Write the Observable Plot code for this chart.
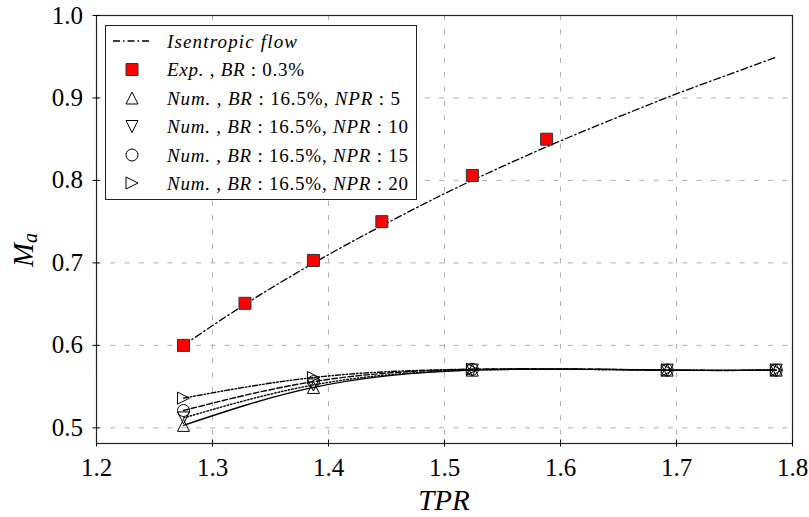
<!DOCTYPE html>
<html><head><meta charset="utf-8">
<script src="https://cdn.jsdelivr.net/npm/d3@7"></script>
<script src="https://cdn.jsdelivr.net/npm/@observablehq/plot@0.6"></script>
<style>body{margin:0;background:#fff}#figure{position:relative;width:809px;height:517px}
#figure svg text,#figure svg tspan{font-family:"Liberation Serif",serif !important}</style>
</head><body><div id="figure"></div>
<script>
// Numerical results, BR 16.5%
const tprNum = [1.275, 1.387, 1.524, 1.692, 1.786];
const maNPR5  = [0.503, 0.549, 0.570, 0.570, 0.570];
const maNPR10 = [0.512, 0.552, 0.570, 0.570, 0.570];
const maNPR15 = [0.521, 0.556, 0.571, 0.570, 0.570];
const maNPR20 = [0.536, 0.561, 0.571, 0.570, 0.570];
// Experiment, BR 0.3%
const tprExp = [1.275, 1.328, 1.387, 1.446, 1.524, 1.588];
const maExp  = [0.600, 0.651, 0.703, 0.750, 0.806, 0.850];
// Isentropic flow curve
const tprIsen = [1.275, 1.30, 1.35, 1.40, 1.45, 1.50, 1.55, 1.60, 1.65, 1.70, 1.75, 1.785];
const maIsen  = [0.600, 0.624, 0.669, 0.710, 0.748, 0.784, 0.817, 0.848, 0.877, 0.905, 0.931, 0.949];
// Ticks
const xTicks = [1.2, 1.3, 1.4, 1.5, 1.6, 1.7, 1.8];
const yTicks = [0.5, 0.6, 0.7, 0.8, 0.9, 1.0];
const nprLabels = ["5", "10", "15", "20"];

const FONT = "Liberation Serif";

// custom symbols (size = pi r^2 as passed by Plot)
const rad = s => Math.sqrt(s / Math.PI);
const triUp = {draw(c, s){const r = rad(s); c.moveTo(0,-r); c.lineTo(r,r); c.lineTo(-r,r); c.closePath();}};
const triDown = {draw(c, s){const r = rad(s); c.moveTo(0,r); c.lineTo(r,-r); c.lineTo(-r,-r); c.closePath();}};
const triRight = {draw(c, s){const r = rad(s); c.moveTo(r,0); c.lineTo(-r,r); c.lineTo(-r,-r); c.closePath();}};
const circ = {draw(c, s){const r = rad(s); c.moveTo(r,0); c.arc(0,0,r,0,2*Math.PI);}};
const sq = {draw(c, s){const r = rad(s); c.rect(-r,-r,2*r,2*r);}};

const numSeries = [
  {npr: nprLabels[0], ma: maNPR5,  symbol: triUp,    dash: null},
  {npr: nprLabels[1], ma: maNPR10, symbol: triDown,  dash: "1.5,2"},
  {npr: nprLabels[2], ma: maNPR15, symbol: circ,     dash: "5.5,2.5"},
  {npr: nprLabels[3], ma: maNPR20, symbol: triRight, dash: "5,2,1.5,2,1.5,2"}
];
const isen = tprIsen.map((x, i) => ({x, y: maIsen[i]}));
const expPts = tprExp.map((x, i) => ({x, y: maExp[i]}));

const marks = [
  Plot.gridX(xTicks, {stroke: "#b0b0b0", strokeOpacity: 1, strokeDasharray: "5,9.3"}),
  Plot.gridY(yTicks, {stroke: "#b0b0b0", strokeOpacity: 1, strokeDasharray: "5,9.3"}),
  Plot.line(isen, {x: "x", y: "y", stroke: "black", strokeWidth: 1.3, strokeDasharray: "7,3,1.5,3", curve: "monotone-x"})
];
for (const s of numSeries) {
  const d = tprNum.map((x, i) => ({x, y: s.ma[i]}));
  marks.push(Plot.line(d, {x: "x", y: "y", stroke: "black", strokeWidth: 1.4, strokeDasharray: s.dash, curve: "natural"}));
}
marks.push(Plot.dot(expPts, {x: "x", y: "y", symbol: sq, r: 6, fill: "#ff0000", stroke: "#333", strokeWidth: 1}));
for (const s of numSeries) {
  const d = tprNum.map((x, i) => ({x, y: s.ma[i]}));
  marks.push(Plot.dot(d, {x: "x", y: "y", symbol: s.symbol, r: 6, fill: "none", stroke: "black", strokeWidth: 1}));
}
marks.push(
  Plot.frame({stroke: "#222", strokeWidth: 1.2}),
  Plot.axisX(xTicks, {tickSize: 3.5, tickPadding: 11, tickFormat: d3.format(".1f"), fontSize: 25, fontFamily: FONT, label: null}),
  Plot.axisX(xTicks, {tickSize: -3.5, tickFormat: () => "", label: null}),
  Plot.axisY(yTicks, {tickSize: 3.5, tickPadding: 10, tickFormat: d3.format(".1f"), fontSize: 25, fontFamily: FONT, label: null}),
  Plot.axisY(yTicks, {tickSize: -3.5, tickFormat: () => "", label: null})
);

const chartEl = Plot.plot({
  width: 809, height: 517,
  marginLeft: 96, marginRight: 17, marginTop: 15, marginBottom: 74,
  x: {domain: [1.2, 1.8], label: null},
  y: {domain: [0.481, 1.0], label: null},
  style: {background: "white", color: "black", fontFamily: FONT},
  marks
});
document.getElementById("figure").appendChild(chartEl);

const root = d3.select(chartEl);
// axis labels
root.append("text").attr("x", 444).attr("y", 510).attr("text-anchor", "middle")
  .attr("font-size", 29).attr("font-style", "italic").text("TPR");
const yl = root.append("text").attr("transform", "translate(33,250) rotate(-90)").attr("text-anchor", "middle")
  .attr("font-size", 29).attr("font-style", "italic");
yl.append("tspan").text("M");
yl.append("tspan").attr("font-size", 20).attr("dy", 4).text("a");

// legend
const leg = root.append("g").attr("font-size", 19).attr("text-anchor", "start");
leg.append("rect").attr("x", 105.5).attr("y", 25.5).attr("width", 311).attr("height", 174)
  .attr("fill", "white").attr("stroke", "#222").attr("stroke-width", 1);
const rowY = [41, 69.5, 98, 126.5, 155, 183];
const rowW = [130, 137, 233, 241, 241, 241];
const I = "italic", N = "normal";
const legendRows = [
  {kind: "line", parts: [["Isentropic flow", I]]},
  {kind: "exp", parts: [["Exp.", I], [" , ", N], ["BR", I], [" : 0.3%", N]]},
  ...numSeries.map(s => ({kind: "num", s, parts: [["Num.", I], [" , ", N], ["BR", I], [" : 16.5%, ", N], ["NPR", I], [" : " + s.npr, N]]}))
];
legendRows.forEach((row, i) => {
  const y = rowY[i];
  if (row.kind === "line") {
    leg.append("line").attr("x1", 113).attr("x2", 152).attr("y1", y).attr("y2", y)
      .attr("stroke", "black").attr("stroke-width", 1.3).attr("stroke-dasharray", "7,3,1.5,3");
  } else if (row.kind === "exp") {
    leg.append("path").attr("transform", `translate(132,${y})`).attr("d", d3.symbol(sq, Math.PI * 36)())
      .attr("fill", "#ff0000").attr("stroke", "#333");
  } else {
    leg.append("path").attr("transform", `translate(132,${y})`).attr("d", d3.symbol(row.s.symbol, Math.PI * 36)())
      .attr("fill", "none").attr("stroke", "black");
  }
  const t = leg.append("text").attr("x", 167).attr("y", y).attr("dy", "0.35em");
  for (const [str, st] of row.parts) t.append("tspan").attr("font-style", st).text(str);
});
// serif face on every text
root.selectAll("text, tspan").attr("font-family", FONT);
// stretch legend rows to the reference widths
function fitLegend() {
  leg.selectAll("text").style("letter-spacing", null).each(function(_, i) {
    const w = this.getComputedTextLength();
    const n = this.textContent.length;
    if (w > 0 && n > 1) d3.select(this).style("letter-spacing", Math.max(0, Math.min(2, (rowW[i] - w) / (n - 1))) + "px");
  });
}
fitLegend();
if (document.fonts && document.fonts.ready) document.fonts.ready.then(fitLegend);
</script></body></html>
